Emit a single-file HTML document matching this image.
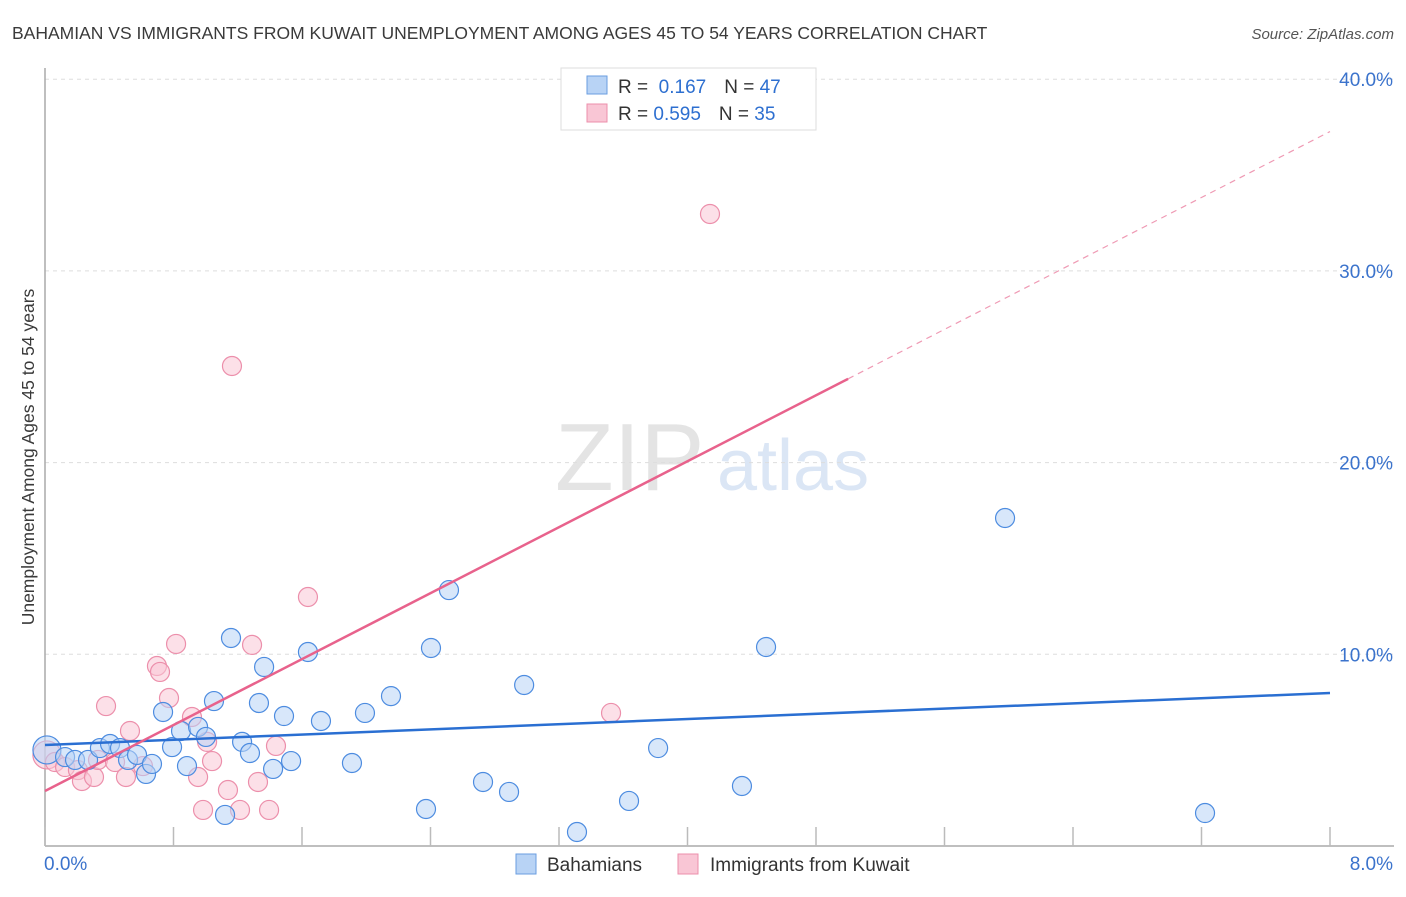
<!DOCTYPE html>
<html><head><meta charset="utf-8">
<style>
body{margin:0;background:#fff;font-family:"Liberation Sans",sans-serif;}
svg text{font-family:"Liberation Sans",sans-serif;}
</style></head>
<body>
<svg id="chart" width="1406" height="892" xmlns="http://www.w3.org/2000/svg">
<text x="12" y="39" font-size="17.5" fill="#3a3a3a">BAHAMIAN VS IMMIGRANTS FROM KUWAIT UNEMPLOYMENT AMONG AGES 45 TO 54 YEARS CORRELATION CHART</text>
<text x="1394" y="39" font-size="15" fill="#555" font-style="italic" text-anchor="end">Source: ZipAtlas.com</text>
<text x="555" y="490" font-size="96" fill="#e4e4e4" font-family="Liberation Serif">ZIP</text>
<text x="717" y="490" font-size="72" fill="#dbe6f5">atlas</text>
<text transform="translate(34,457) rotate(-90)" font-size="17.5" fill="#3a3a3a" text-anchor="middle">Unemployment Among Ages 45 to 54 years</text>
<g id="grid"></g>
<g id="axes"></g>
<g id="marks"></g>
<g>
<rect x="561" y="68" width="255" height="62" fill="#fff" stroke="#ddd"/>
<rect x="587" y="76" width="20" height="18" fill="#b8d3f5" stroke="#6a9ee0"/>
<rect x="587" y="104" width="20" height="18" fill="#f9c6d5" stroke="#ec8fab"/>
<text x="618" y="93" font-size="19" fill="#333">R = <tspan fill="#2d6fd0">&#160;0.167</tspan><tspan dx="18">N = </tspan><tspan fill="#2d6fd0">47</tspan></text>
<text x="618" y="120" font-size="19" fill="#333">R = <tspan fill="#2d6fd0">0.595</tspan><tspan dx="18">N = </tspan><tspan fill="#2d6fd0">35</tspan></text>
</g>
<g>
<rect x="516" y="854" width="20" height="20" fill="#b8d3f5" stroke="#6a9ee0"/>
<text x="547" y="871" font-size="19" fill="#333">Bahamians</text>
<rect x="678" y="854" width="20" height="20" fill="#f9c6d5" stroke="#ec8fab"/>
<text x="710" y="871" font-size="19" fill="#333">Immigrants from Kuwait</text>
</g>
</svg>
<script>
const xTicks=[0,0.8,1.6,2.4,3.2,4,4.8,5.6,6.4,7.2,8];
const yTicks=[10,20,30,40];
const yTickLabels=["10.0%","20.0%","30.0%","40.0%"];
const xTickLabels=["0.0%","8.0%"];
const bahX=[0.012,0.125,0.187,0.268,0.342,0.405,0.467,0.517,0.573,0.629,0.666,0.735,0.791,0.847,0.884,0.953,1.002,1.052,1.121,1.158,1.227,1.276,1.332,1.364,1.420,1.488,1.532,1.637,1.718,1.911,1.992,2.154,2.403,2.372,2.515,2.727,2.889,2.983,3.312,3.636,3.817,4.339,4.489,5.977,7.222];
const bahY=[5.01,4.64,4.49,4.49,5.11,5.32,5.11,4.49,4.75,3.76,4.28,6.99,5.16,6.00,4.17,6.21,5.69,7.56,1.62,10.85,5.43,4.85,7.46,9.34,4.02,6.78,4.43,10.12,6.52,4.33,6.94,7.82,10.33,1.93,13.35,3.34,2.82,8.40,0.73,2.35,5.11,3.13,10.38,17.11,1.72];
const kuwX=[0.012,0.062,0.125,0.205,0.230,0.305,0.330,0.380,0.436,0.504,0.529,0.610,0.697,0.716,0.772,0.816,0.915,0.953,0.984,1.009,1.040,1.139,1.164,1.214,1.289,1.326,1.395,1.438,1.637,3.524,4.140];
const kuwY=[4.75,4.38,4.12,3.96,3.39,3.60,4.49,7.30,4.38,3.60,6.00,4.17,9.39,9.08,7.72,10.54,6.73,3.60,1.88,5.43,4.43,2.92,25.04,1.88,10.49,3.34,1.88,5.22,12.99,6.94,32.97];
const bahTrend=[5.27,7.98];
const kuwTrend=[2.87,37.27];
const kuwSolidEnd=5.0;

const NS="http://www.w3.org/2000/svg";
const X0=45,X1=1330,Y0=846,PPY=19.17;
function sx(v){return X0+(X1-X0)*v/8;}
function sy(v){return Y0-v*PPY;}
function mk(tag,attrs,parent){const e=document.createElementNS(NS,tag);for(const k in attrs)e.setAttribute(k,attrs[k]);parent.appendChild(e);return e;}
const grid=document.getElementById('grid'),axes=document.getElementById('axes'),marks=document.getElementById('marks');
yTicks.forEach((t,i)=>{
 const l=mk('line',{x1:X0,x2:1394,y1:sy(t),y2:sy(t),stroke:'#ddd','stroke-dasharray':'4,4'},grid);
 
 
 const tx=mk('text',{x:1393,y:sy(t)+7,'font-size':19,fill:'#3b73cc','text-anchor':'end'},axes);
 tx.textContent=yTickLabels[i];
 
 
});
const yl=mk('line',{x1:X0,x2:X0,y1:68,y2:Y0,stroke:'#aaa','stroke-width':1.5},axes);


const xl=mk('line',{x1:X0,x2:1394,y1:Y0,y2:Y0,stroke:'#aaa','stroke-width':1.5},axes);


xTicks.forEach(t=>{
 const l=mk('line',{x1:sx(t),x2:sx(t),y1:Y0-19,y2:Y0,stroke:'#bbb','stroke-width':1.5},axes);
 
 
});
[[0,'start',44],[8,'end',1393]].forEach((a,i)=>{
 const tx=mk('text',{x:a[2],y:870,'font-size':19,fill:'#3b73cc','text-anchor':a[1]},axes);
 tx.textContent=xTickLabels[i];
 
 
});
function pts(xs,ys,fill,stroke,name){
 xs.forEach((x,i)=>{
  const r=i===0?14:9.5;
  const c=mk('circle',{cx:sx(x),cy:sy(ys[i]),r:r,fill:fill,'fill-opacity':0.55,stroke:stroke,'stroke-width':1.2},marks);
  
  
 });
}
pts(kuwX,kuwY,'#f9c6d5','#ec8fab','kuwait-point');
pts(bahX,bahY,'#b8d3f5','#4d8ce0','bahamian-point');
const bl=mk('line',{x1:sx(0),y1:sy(bahTrend[0]),x2:sx(8),y2:sy(bahTrend[1]),stroke:'#2a6fd2','stroke-width':2.5},marks);


const slope=(kuwTrend[1]-kuwTrend[0])/8;
const kl=mk('line',{x1:sx(0),y1:sy(kuwTrend[0]),x2:sx(kuwSolidEnd),y2:sy(kuwTrend[0]+slope*kuwSolidEnd),stroke:'#e8628c','stroke-width':2.5},marks);


const kd=mk('line',{x1:sx(kuwSolidEnd),y1:sy(kuwTrend[0]+slope*kuwSolidEnd),x2:sx(8),y2:sy(kuwTrend[1]),stroke:'#ef9ab4','stroke-width':1.2,'stroke-dasharray':'6,5'},marks);


</script>
</body></html>
